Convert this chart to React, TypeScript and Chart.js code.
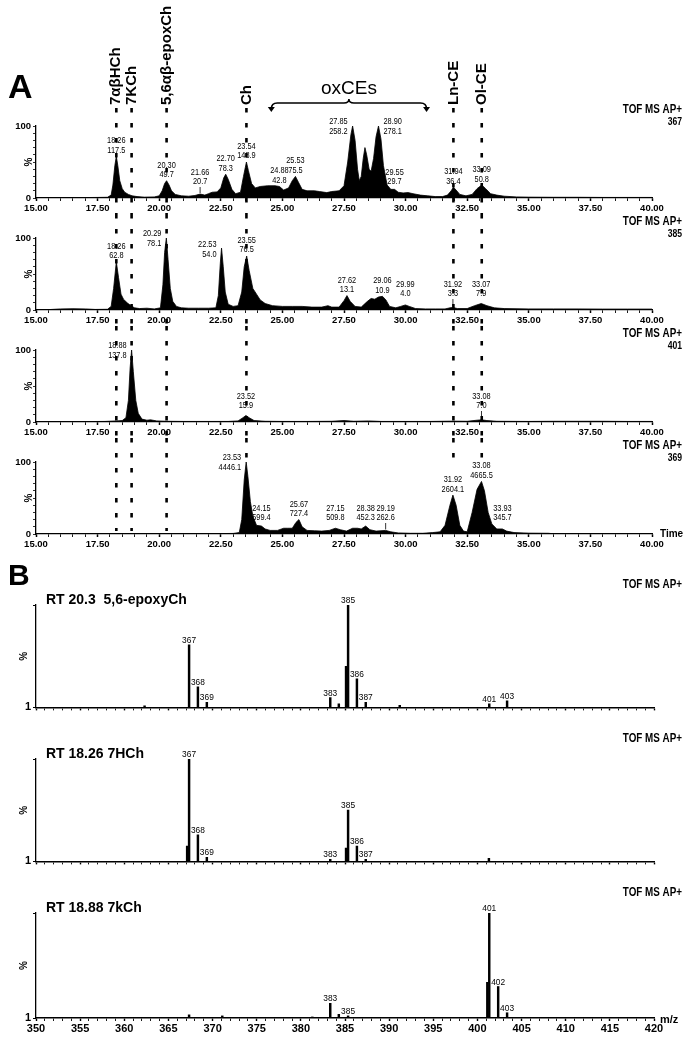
import React, { useEffect, useRef } from 'react';
import { Chart, registerables } from 'chart.js';

Chart.register(...registerables);

const FONT = '"Liberation Sans", Arial, Helvetica, sans-serif';

// ---------- Panel A: extracted-ion chromatograms (retention time min, relative intensity %) ----------
const rtTickLabels = ['15.00', '17.50', '20.00', '22.50', '25.00', '27.50', '30.00', '32.50', '35.00', '37.50', '40.00'];

const mz367Time = [15.0, 15.5, 16.0, 16.5, 17.0, 17.5, 17.9, 18.05, 18.12, 18.2, 18.26, 18.32, 18.4, 18.5, 18.6, 18.75, 18.9, 19.1, 19.4, 19.8, 20.0, 20.12, 20.22, 20.3, 20.4, 20.5, 20.65, 20.9, 21.2, 21.45, 21.66, 21.85, 22.0, 22.15, 22.35, 22.5, 22.62, 22.7, 22.8, 22.95, 23.1, 23.3, 23.42, 23.54, 23.62, 23.75, 23.9, 24.1, 24.4, 24.7, 24.88, 25.05, 25.25, 25.4, 25.53, 25.65, 25.8, 26.0, 26.3, 26.5, 26.8, 27.0, 27.3, 27.5, 27.65, 27.78, 27.85, 27.95, 28.05, 28.12, 28.2, 28.28, 28.35, 28.42, 28.52, 28.6, 28.7, 28.8, 28.9, 29.0, 29.1, 29.25, 29.4, 29.55, 29.7, 29.9, 30.1, 30.3, 30.6, 30.9, 31.2, 31.5, 31.7, 31.85, 31.94, 32.05, 32.2, 32.45, 32.7, 32.9, 33.09, 33.25, 33.45, 33.7, 34.0, 34.5, 35.0, 36.0, 37.0, 38.0, 39.0, 40.0];
const mz367Int = [0.5, 0.6, 0.5, 0.7, 0.6, 0.8, 1.0, 4, 18, 45, 58, 45, 24, 13, 8, 5, 3, 2, 1.2, 1.5, 3, 10, 20, 24, 18, 10, 5, 3, 2.5, 3.5, 5.5, 4, 6, 8, 8.5, 14, 28, 33, 26, 12, 6, 8, 30, 50, 38, 20, 14, 16, 17, 17, 16, 11, 14, 24, 30, 22, 12, 10, 10, 9, 7.5, 9, 10, 17, 50, 88, 100, 80, 40, 24, 30, 55, 70, 60, 40, 37, 55, 85, 100, 82, 45, 18, 12, 12, 8, 7, 7.5, 6, 4, 3, 2, 2, 4, 10, 15, 11, 5, 3, 5, 13, 18, 13, 6, 4, 2.5, 1.5, 1.2, 1, 1, 0.8, 0.8, 0.8];
const mz367PeakRT = [18.26, 20.30, 21.66, 22.70, 23.54, 24.88, 25.53, 27.85, 28.90, 29.55, 31.94, 33.09];
const mz367PeakArea = ['117.5', '49.7', '20.7', '78.3', '148.9', '42.8', '75.5', '258.2', '278.1', '29.7', '36.4', '50.8'];

const mz385Time = [15.0, 15.5, 16.0, 16.5, 17.0, 17.4, 17.9, 18.05, 18.15, 18.26, 18.35, 18.45, 18.55, 18.7, 18.85, 19.0, 19.2, 19.5, 19.8, 20.05, 20.15, 20.22, 20.29, 20.36, 20.45, 20.55, 20.7, 20.9, 21.2, 21.6, 22.0, 22.3, 22.4, 22.48, 22.53, 22.6, 22.68, 22.8, 23.0, 23.2, 23.35, 23.45, 23.55, 23.65, 23.8, 23.95, 24.1, 24.3, 24.6, 25.0, 25.4, 25.8, 26.2, 26.6, 26.85, 27.0, 27.3, 27.5, 27.62, 27.75, 27.95, 28.2, 28.45, 28.6, 28.75, 28.9, 29.06, 29.2, 29.35, 29.6, 29.8, 29.99, 30.15, 30.4, 30.8, 31.2, 31.6, 31.8, 31.92, 32.1, 32.5, 32.8, 33.07, 33.3, 33.6, 34.0, 35.0, 36.0, 37.0, 38.0, 39.0, 40.0];
const mz385Int = [0.5, 0.5, 1.5, 1.8, 1.5, 0.8, 1, 5, 30, 67, 45, 22, 15, 10, 6, 3, 2, 2.5, 1.5, 3, 35, 80, 100, 70, 30, 12, 5, 3, 2.5, 2.5, 2.5, 3, 20, 65, 86, 60, 25, 8, 5, 6, 25, 60, 75, 55, 30, 22, 14, 9, 6, 5, 5, 5, 4, 4, 6, 4, 4, 13, 20, 12, 5, 4, 12, 16, 15, 18, 19, 14, 5, 3, 5, 7, 5, 2, 1.5, 1.5, 1.5, 3, 3.5, 2, 2, 6, 9, 6, 3, 2, 1.5, 1.5, 1.5, 1.3, 1.3, 1.3];
const mz385PeakRT = [18.26, 20.29, 22.53, 23.55, 27.62, 29.06, 29.99, 31.92, 33.07];
const mz385PeakArea = ['62.8', '78.1', '54.0', '76.5', '13.1', '10.9', '4.0', '3.3', '7.9'];

const mz401Time = [15.0, 16.0, 17.0, 17.8, 18.26, 18.5, 18.65, 18.75, 18.82, 18.88, 18.95, 19.05, 19.15, 19.3, 19.5, 19.65, 19.9, 20.3, 21.0, 22.0, 22.8, 23.2, 23.4, 23.52, 23.65, 23.85, 24.3, 25.0, 26.0, 27.0, 27.5, 27.9, 28.5, 29.0, 30.0, 31.0, 31.92, 32.5, 32.9, 33.08, 33.3, 33.7, 35.0, 36.0, 37.0, 38.0, 39.0, 40.0];
const mz401Int = [0.5, 0.6, 0.6, 0.8, 1.5, 2, 6, 30, 75, 100, 70, 30, 12, 4, 2.5, 3, 1.5, 1, 0.8, 0.8, 0.8, 1.5, 6, 9, 6, 2, 1, 0.8, 0.8, 1, 2, 1, 1.5, 0.8, 0.8, 0.8, 1.2, 1, 2.5, 3, 2, 1, 0.8, 1, 1, 1, 0.8, 0.8];
const mz401PeakRT = [18.88, 23.52, 33.08];
const mz401PeakArea = ['137.8', '15.9', '7.0'];

const mz369Time = [15.0, 16.0, 17.0, 18.0, 19.0, 20.0, 21.0, 22.0, 22.5, 23.0, 23.25, 23.35, 23.45, 23.53, 23.6, 23.7, 23.8, 23.95, 24.15, 24.3, 24.5, 24.8, 25.05, 25.2, 25.4, 25.55, 25.67, 25.8, 26.0, 26.3, 26.6, 26.9, 27.15, 27.35, 27.6, 27.85, 28.05, 28.2, 28.38, 28.55, 28.8, 29.0, 29.19, 29.4, 29.7, 30.2, 30.7, 31.1, 31.4, 31.6, 31.8, 31.92, 32.05, 32.2, 32.35, 32.5, 32.7, 32.9, 33.08, 33.2, 33.35, 33.5, 33.7, 33.93, 34.1, 34.4, 35.0, 35.8, 36.0, 37.0, 38.0, 39.0, 40.0];
const mz369Int = [0.2, 0.2, 0.2, 0.2, 0.2, 0.2, 0.2, 0.5, 0.6, 0.8, 2, 20, 75, 100, 80, 45, 25, 12, 11, 7, 5, 5, 8, 8, 8, 16, 20, 10, 5, 4.5, 4, 5, 8, 6, 4, 8, 8, 7, 11, 6, 4, 4.5, 5, 3, 1.5, 1, 1, 2, 3, 12, 40, 54, 40, 12, 4, 3, 30, 62, 73, 60, 30, 14, 7, 7, 4, 2, 1.2, 1, 0.3, 0.2, 0.2, 0.2, 0.2];
const mz369PeakRT = [23.53, 24.15, 25.67, 27.15, 28.38, 29.19, 31.92, 33.08, 33.93];
const mz369PeakArea = ['4446.1', '599.4', '727.4', '509.8', '452.3', '262.6', '2604.1', '4665.5', '345.7'];

const markerRT = [18.26, 18.88, 20.30, 23.54, 31.94, 33.09];
const markerName = ['7αβHCh', '7KCh', '5,6αβ-epoxCh', 'Ch', 'Ln-CE', 'Ol-CE'];
const oxceRange = [24.55, 30.85];
const oxceName = 'oxCEs';

// ---------- Panel B: mass spectra (m/z, relative intensity %) ----------
const mzTickLabels = ['350', '355', '360', '365', '370', '375', '380', '385', '390', '395', '400', '405', '410', '415', '420'];

const spec1Title = 'RT 20.3  5,6-epoxyCh';
const spec1Mz = [362.3, 367.34, 368.34, 369.35, 383.33, 384.3, 385.12, 385.35, 386.35, 387.35, 391.2, 401.34, 403.36];
const spec1Int = [1.5, 61, 20, 5, 9.5, 3.5, 40, 100, 28, 5, 2, 3.5, 6.5];
const spec1Labels = ['367', '368', '369', '383', '385', '386', '387', '401', '403'];

const spec2Title = 'RT 18.26 7HCh';
const spec2Mz = [367.12, 367.34, 368.34, 369.35, 383.33, 385.12, 385.35, 386.35, 387.35, 401.3];
const spec2Int = [15, 100, 26, 4, 2, 13, 50, 15, 2, 3];
const spec2Labels = ['367', '368', '369', '383', '385', '386', '387'];

const spec3Title = 'RT 18.88 7kCh';
const spec3Mz = [367.34, 371.1, 381.3, 383.33, 384.3, 385.35, 401.12, 401.34, 402.35, 403.36];
const spec3Int = [3, 2, 1, 14, 3.5, 2, 34, 100, 30, 5];
const spec3Labels = ['383', '385', '401', '402', '403'];

// ---------- layout ----------
const CHROM_LAYOUT = [
  { top: 0, height: 214, padTop: 126 },
  { top: 214, height: 112, padTop: 24 },
  { top: 326, height: 112, padTop: 24 },
  { top: 438, height: 112, padTop: 24 },
];
const SPEC_LAYOUT = [
  { top: 560, height: 156, padTop: 45, xh: 5, padBottom: 0 },
  { top: 716, height: 154, padTop: 43, xh: 5, padBottom: 0 },
  { top: 870, height: 174, padTop: 43, xh: 16, padBottom: 10 },
];

const near = (a: number, b: number, eps = 1e-6) => Math.abs(a - b) < eps;

function peakHeight(times: number[], ints: number[], rt: number) {
  let best = 0;
  for (let i = 0; i < times.length; i++) if (Math.abs(times[i] - rt) <= 0.06) best = Math.max(best, ints[i]);
  return best;
}

// condensed text (the original uses a narrow face)
function narrowText(ctx: CanvasRenderingContext2D, txt: string, x: number, y: number, sx = 0.82) {
  ctx.save();
  ctx.translate(x, y);
  ctx.scale(sx, 1);
  ctx.fillText(txt, 0, 0);
  ctx.restore();
}

type ChromSpec = { times: number[]; ints: number[]; ion: string; peakRT: number[]; peakArea: string[] };

function makeChromConfig(idx: number, p: ChromSpec): any {
  const L = CHROM_LAYOUT[idx];
  const isFirst = idx === 0;
  const isLast = idx === CHROM_LAYOUT.length - 1;
  const decor = {
    id: 'chromDecor',
    afterDraw(chart: any) {
      const { ctx, chartArea: ca, scales } = chart;
      const xs = scales.x;
      const ys = scales.y;
      ctx.save();
      ctx.fillStyle = '#000';
      ctx.strokeStyle = '#000';
      ctx.textBaseline = 'middle';
      // TOF label
      ctx.textAlign = 'right';
      ctx.font = `bold 12px ${FONT}`;
      narrowText(ctx, 'TOF MS AP+', 682, ca.top - 16);
      ctx.font = `bold 10.5px ${FONT}`;
      narrowText(ctx, p.ion, 682, ca.top - 3.5);
      // % axis title
      ctx.save();
      ctx.translate(29, (ca.top + ca.bottom) / 2);
      ctx.rotate(-Math.PI / 2);
      ctx.textAlign = 'center';
      ctx.font = `bold 10px ${FONT}`;
      ctx.fillText('%', 0, 0);
      ctx.restore();
      // peak labels
      ctx.font = `9px ${FONT}`;
      ctx.lineWidth = 0.8;
      p.peakRT.forEach((rt, k) => {
        const h = peakHeight(p.times, p.ints, rt);
        const px = xs.getPixelForValue(rt);
        const py = ys.getPixelForValue(h);
        const tTxt = rt.toFixed(2);
        const aTxt = p.peakArea[k];
        let mode = 'above';
        if (h > 85) {
          const tallLeft = p.peakRT.some((r2, j) => j !== k && r2 < rt && rt - r2 < 1.5 && peakHeight(p.times, p.ints, r2) > 85);
          mode = tallLeft ? 'right' : 'left';
        }
        if (mode === 'above') {
          const aY = Math.min(py - 6, ca.bottom - 16);
          ctx.textAlign = 'center';
          narrowText(ctx, tTxt, px, aY - 9.5);
          narrowText(ctx, aTxt, px, aY);
          if (py - aY > 12) {
            ctx.beginPath();
            ctx.moveTo(px, py - 1);
            ctx.lineTo(px, aY + 5);
            ctx.stroke();
          }
        } else if (mode === 'left') {
          ctx.textAlign = 'right';
          narrowText(ctx, tTxt, px - 5, py - 4);
          narrowText(ctx, aTxt, px - 5, py + 6);
        } else {
          ctx.textAlign = 'left';
          narrowText(ctx, tTxt, px + 5, py - 4);
          narrowText(ctx, aTxt, px + 5, py + 6);
        }
      });
      // dashed marker lines
      ctx.lineWidth = 2.6;
      ctx.setLineDash([4.5, 10.5]);
      markerRT.forEach((rt, k) => {
        const px = xs.getPixelForValue(rt);
        const y0 = isFirst ? 108 : 0;
        let y1 = chart.height;
        if (isLast) y1 = k < 3 ? ca.bottom - 3 : ca.top;
        ctx.beginPath();
        ctx.moveTo(px, y0);
        ctx.lineTo(px, y1);
        ctx.stroke();
      });
      ctx.setLineDash([]);
      if (isFirst) {
        // panel letter
        ctx.textAlign = 'left';
        ctx.textBaseline = 'alphabetic';
        ctx.font = `bold 34px ${FONT}`;
        ctx.fillText('A', 8, 98);
        // rotated compound labels
        ctx.font = `bold 15px ${FONT}`;
        markerRT.forEach((rt, k) => {
          const px = xs.getPixelForValue(rt);
          ctx.save();
          ctx.translate(px, 105);
          ctx.rotate(-Math.PI / 2);
          ctx.textAlign = 'left';
          ctx.textBaseline = 'middle';
          ctx.fillText(markerName[k], 0, 0);
          ctx.restore();
        });
        // oxCE bracket
        const x1 = xs.getPixelForValue(oxceRange[0]);
        const x2 = xs.getPixelForValue(oxceRange[1]);
        const xm = (x1 + x2) / 2;
        const yb = 103;
        ctx.lineWidth = 1.6;
        ctx.beginPath();
        ctx.moveTo(x1, yb + 6);
        ctx.quadraticCurveTo(x1, yb, x1 + 6, yb);
        ctx.lineTo(xm - 5, yb);
        ctx.quadraticCurveTo(xm, yb, xm, yb - 4);
        ctx.quadraticCurveTo(xm, yb, xm + 5, yb);
        ctx.lineTo(x2 - 6, yb);
        ctx.quadraticCurveTo(x2, yb, x2, yb + 6);
        ctx.stroke();
        [x1, x2].forEach((ax) => {
          ctx.beginPath();
          ctx.moveTo(ax - 3.5, yb + 4);
          ctx.lineTo(ax + 3.5, yb + 4);
          ctx.lineTo(ax, yb + 9);
          ctx.closePath();
          ctx.fill();
        });
        ctx.font = `19px ${FONT}`;
        ctx.textAlign = 'center';
        ctx.textBaseline = 'alphabetic';
        ctx.fillText(oxceName, xm, 94);
      }
      if (isLast) {
        ctx.textAlign = 'left';
        ctx.textBaseline = 'middle';
        ctx.font = `bold 10px ${FONT}`;
        ctx.fillText('Time', ca.right + 8, ca.bottom);
      }
      ctx.restore();
    },
  };
  return {
    type: 'line',
    data: {
      datasets: [
        {
          data: p.times.map((t, i) => ({ x: t, y: p.ints[i] })),
          borderColor: '#000',
          borderWidth: 0.8,
          backgroundColor: '#000',
          fill: 'origin',
          pointRadius: 0,
          tension: 0,
        },
      ],
    },
    options: {
      responsive: false,
      animation: false,
      devicePixelRatio: 1,
      events: [],
      layout: { padding: { left: 0, right: 38, top: L.padTop, bottom: 0 } },
      plugins: { legend: { display: false }, tooltip: { enabled: false } },
      scales: {
        x: {
          type: 'linear',
          min: 15,
          max: 40,
          afterFit: (s: any) => {
            s.height = 16;
          },
          border: { display: true, color: '#000', width: 1.3 },
          grid: {
            display: true,
            drawOnChartArea: false,
            drawTicks: true,
            tickLength: 3,
            color: '#000',
            tickWidth: (c: any) => (c.tick && near(c.tick.value / 2.5, Math.round(c.tick.value / 2.5)) ? 1.5 : 0.9),
          },
          ticks: {
            stepSize: 0.5,
            autoSkip: false,
            maxRotation: 0,
            minRotation: 0,
            padding: 2,
            color: '#000',
            font: { family: FONT, size: 9.5, weight: 'bold' },
            callback: (v: number) => {
              const k = (v - 15) / 2.5;
              return near(k, Math.round(k)) ? rtTickLabels[Math.round(k)] : '';
            },
          },
        },
        y: {
          min: 0,
          max: 100,
          afterFit: (s: any) => {
            s.width = 36;
          },
          border: { display: true, color: '#000', width: 1.3 },
          grid: { display: true, drawOnChartArea: false, drawTicks: true, tickLength: 3, color: '#000', tickWidth: 0.8 },
          ticks: {
            stepSize: 10,
            autoSkip: false,
            padding: 2,
            color: '#000',
            font: { family: FONT, size: 9.5, weight: 'bold' },
            callback: (v: number) => (v === 0 || v === 100 ? String(v) : ''),
          },
        },
      },
    },
    plugins: [decor],
  };
}

type SpecSpec = { title: string; mz: number[]; ints: number[]; labels: string[] };

function makeSpecConfig(idx: number, s: SpecSpec): any {
  const L = SPEC_LAYOUT[idx];
  const isFirst = idx === 0;
  const isLast = idx === SPEC_LAYOUT.length - 1;
  const decor = {
    id: 'specDecor',
    afterDraw(chart: any) {
      const { ctx, chartArea: ca, scales } = chart;
      const xs = scales.x;
      const ys = scales.y;
      ctx.save();
      ctx.fillStyle = '#000';
      ctx.textBaseline = 'middle';
      ctx.textAlign = 'right';
      ctx.font = `bold 12px ${FONT}`;
      narrowText(ctx, 'TOF MS AP+', 682, ca.top - 20);
      ctx.textAlign = 'left';
      ctx.font = `bold 14px ${FONT}`;
      ctx.fillText(s.title, 46, ca.top - 5);
      if (isFirst) {
        ctx.textBaseline = 'alphabetic';
        ctx.font = `bold 30px ${FONT}`;
        ctx.fillText('B', 8, 25);
        ctx.textBaseline = 'middle';
      }
      // % title
      ctx.save();
      ctx.translate(24, (ca.top + ca.bottom) / 2);
      ctx.rotate(-Math.PI / 2);
      ctx.textAlign = 'center';
      ctx.font = `bold 10px ${FONT}`;
      ctx.fillText('%', 0, 0);
      ctx.restore();
      // stick labels
      ctx.font = `9.5px ${FONT}`;
      ctx.textAlign = 'center';
      ctx.textBaseline = 'alphabetic';
      s.labels.forEach((lab) => {
        const nominal = Number(lab);
        let bi = -1;
        s.mz.forEach((m, i) => {
          if (Math.floor(m) === nominal && (bi < 0 || s.ints[i] > s.ints[bi])) bi = i;
        });
        if (bi < 0) return;
        const px = xs.getPixelForValue(s.mz[bi]);
        const py = ys.getPixelForValue(s.ints[bi]);
        narrowText(ctx, lab, px, py - 2, 0.88);
      });
      if (isLast) {
        ctx.textAlign = 'left';
        ctx.textBaseline = 'middle';
        ctx.font = `bold 11px ${FONT}`;
        ctx.fillText('m/z', ca.right + 6, ca.bottom + 2);
      }
      ctx.restore();
    },
  };
  return {
    type: 'bar',
    data: {
      datasets: [
        {
          data: s.mz.map((m, i) => ({ x: m, y: s.ints[i] })),
          backgroundColor: '#000',
          borderWidth: 0,
          barThickness: 1.8,
        },
      ],
    },
    options: {
      responsive: false,
      animation: false,
      devicePixelRatio: 1,
      events: [],
      layout: { padding: { left: 0, right: 36, top: L.padTop, bottom: L.padBottom } },
      plugins: { legend: { display: false }, tooltip: { enabled: false } },
      scales: {
        x: {
          type: 'linear',
          min: 350,
          max: 420,
          offset: false,
          afterFit: (sc: any) => {
            sc.height = L.xh;
          },
          border: { display: true, color: '#000', width: 1.6 },
          grid: {
            display: true,
            offset: false,
            drawOnChartArea: false,
            drawTicks: true,
            tickLength: 3,
            color: '#000',
            tickWidth: (c: any) => (c.tick && c.tick.value % 5 === 0 ? 1.4 : 0.9),
          },
          ticks: {
            stepSize: 1,
            autoSkip: false,
            maxRotation: 0,
            minRotation: 0,
            padding: 1,
            color: '#000',
            font: { family: FONT, size: 11, weight: 'bold' },
            callback: (v: number) => {
              if (!isLast) return '';
              const k = (v - 350) / 5;
              return near(k, Math.round(k)) ? mzTickLabels[Math.round(k)] : '';
            },
          },
        },
        y: {
          min: 0,
          max: 100,
          afterFit: (sc: any) => {
            sc.width = 36;
          },
          border: { display: true, color: '#000', width: 1.3 },
          grid: { display: true, drawOnChartArea: false, drawTicks: true, tickLength: 3, color: '#000' },
          ticks: {
            stepSize: 100,
            autoSkip: false,
            padding: 2,
            color: '#000',
            font: { family: FONT, size: 11, weight: 'bold' },
            callback: (v: number) => (v === 0 ? '1' : ''),
          },
        },
      },
    },
    plugins: [decor],
  };
}

function ChartCanvas({ top, height, build }: { top: number; height: number; build: () => any }) {
  const ref = useRef<HTMLCanvasElement>(null);
  useEffect(() => {
    if (!ref.current) return;
    const chart = new Chart(ref.current, build());
    return () => chart.destroy();
  }, []);
  return (
    <canvas
      ref={ref}
      width={690}
      height={height}
      style={{ position: 'absolute', left: 0, top, width: 690, height, display: 'block' }}
    />
  );
}

const chroms: ChromSpec[] = [
  { times: mz367Time, ints: mz367Int, ion: '367', peakRT: mz367PeakRT, peakArea: mz367PeakArea },
  { times: mz385Time, ints: mz385Int, ion: '385', peakRT: mz385PeakRT, peakArea: mz385PeakArea },
  { times: mz401Time, ints: mz401Int, ion: '401', peakRT: mz401PeakRT, peakArea: mz401PeakArea },
  { times: mz369Time, ints: mz369Int, ion: '369', peakRT: mz369PeakRT, peakArea: mz369PeakArea },
];

const spectra: SpecSpec[] = [
  { title: spec1Title, mz: spec1Mz, ints: spec1Int, labels: spec1Labels },
  { title: spec2Title, mz: spec2Mz, ints: spec2Int, labels: spec2Labels },
  { title: spec3Title, mz: spec3Mz, ints: spec3Int, labels: spec3Labels },
];

export default function App() {
  return (
    <div style={{ position: 'absolute', left: 0, top: 0, width: 690, height: 1044, background: '#fff', overflow: 'hidden' }}>
      {chroms.map((c, i) => (
        <ChartCanvas key={'c' + i} top={CHROM_LAYOUT[i].top} height={CHROM_LAYOUT[i].height} build={() => makeChromConfig(i, c)} />
      ))}
      {spectra.map((s, i) => (
        <ChartCanvas key={'s' + i} top={SPEC_LAYOUT[i].top} height={SPEC_LAYOUT[i].height} build={() => makeSpecConfig(i, s)} />
      ))}
    </div>
  );
}
